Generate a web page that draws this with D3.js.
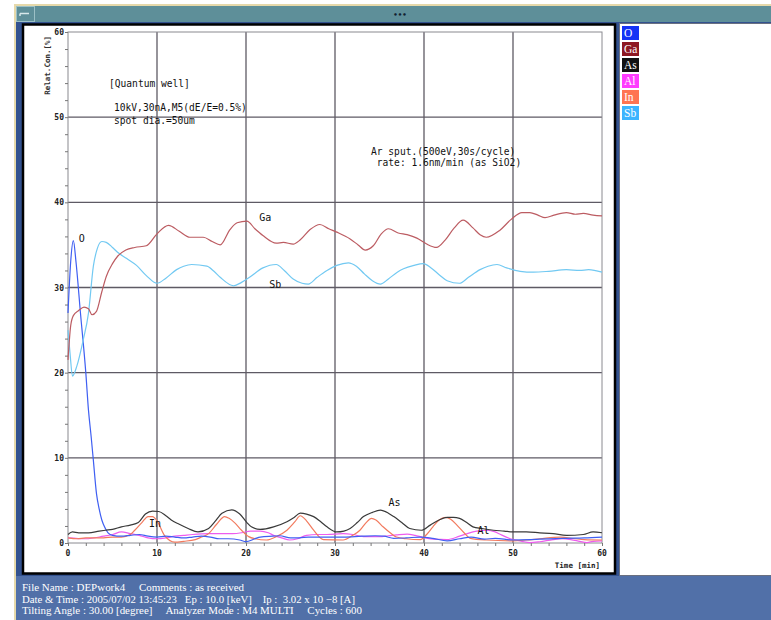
<!DOCTYPE html>
<html><head><meta charset="utf-8">
<script src="https://cdn.jsdelivr.net/npm/d3@7"></script>
<style>body{margin:0;background:#fff}svg{display:block}</style>
</head><body><svg id="c" width="771" height="620"></svg>
<script>
// ---- data (time [min], relative concentration [%]) ----
const seriesNames = ["O","Ga","As","Al","In","Sb"];
const legendColors = ["#1533f5","#8e1822","#121212","#ff3cff","#ff7452","#3db4ff"];
const lineColors   = ["#3f5ff2","#bc5c62","#3a3a3a","#ee5cee","#f27a5e","#72c9f2"];
const xTicks = [0,10,20,30,40,50,60];
const yTicks = [0,10,20,30,40,50,60];

const dataO = [[0,27],[0.3,33],[0.6,35.5],[0.9,33],[1.4,27],[2.0,20],[2.3,15.6],[2.6,12.5],[2.85,9.7],[3.2,5.8],[3.5,4.0],[3.8,2.7],[4.2,1.7],[4.5,1.2],[5.0,0.9],[6.0,0.8],[7.0,0.9],[8.0,1.0],[9.0,0.8],[10,0.7],[11,0.8],[12,0.7],[13,0.6],[14,0.7],[15,0.8],[16,0.7],[17,0.5],[18,0.5],[19.3,0.35],[20,0.15],[21,0.5],[21.6,0.7],[23,0.8],[23.8,0.85],[25,0.6],[26,0.6],[27,0.7],[29,0.7],[31,0.7],[33,0.8],[34.5,0.85],[35.5,0.8],[36.6,0.55],[38,0.6],[39.6,0.7],[41,0.55],[42.6,0.25],[44,0.5],[45.3,0.7],[46.8,0.45],[48,0.55],[50,0.35],[52,0.4],[53,0.45],[56,0.55],[58,0.6],[60,0.7]];
const dataGa = [[0,21.5],[0.3,25.5],[0.6,26.7],[1.2,27.3],[1.8,27.7],[2.3,27.5],[2.7,26.8],[3.2,27.2],[3.8,29.5],[4.3,31.3],[5.0,32.8],[5.6,33.7],[6.5,34.4],[7.5,34.7],[8.8,34.9],[10.0,36.3],[11.3,37.3],[12.5,36.6],[13.7,35.9],[15.2,35.9],[16.2,35.4],[17.1,35.0],[18.2,36.8],[19.0,37.6],[20.1,37.8],[21.0,36.9],[21.9,36.1],[23.4,35.2],[24.2,35.3],[25.3,35.1],[26.1,35.6],[27.2,36.8],[28.3,37.4],[29.3,36.9],[30.2,36.5],[31.7,35.7],[32.6,35.0],[33.4,34.4],[34.3,34.9],[35.2,36.3],[36.0,36.9],[37.1,36.4],[38.1,36.2],[39.2,35.8],[40.3,35.1],[41.4,34.7],[42.4,35.6],[43.4,37.0],[44.4,37.9],[45.5,37.0],[46.3,36.2],[47.0,35.9],[48.5,36.7],[49.8,38.0],[51.0,38.8],[51.9,38.8],[52.8,38.5],[53.6,38.2],[54.6,38.5],[56.0,38.8],[57.0,38.6],[57.9,38.7],[59.0,38.5],[60,38.4]];
const dataAs = [[0,1.0],[0.5,1.3],[1.2,1.2],[2.3,1.2],[3.5,1.4],[4.2,1.5],[5,1.6],[6,1.9],[7,2.1],[7.9,2.4],[8.7,3.4],[9.5,3.75],[10.2,3.7],[11.0,3.2],[11.6,2.7],[12.5,2.2],[13.5,1.7],[14.6,1.3],[15.8,1.7],[16.5,2.5],[17.3,3.5],[18.4,3.9],[19.3,3.4],[20.1,2.4],[20.6,1.9],[21.6,1.6],[23.1,1.9],[24.6,2.5],[25.4,3.0],[26.1,3.5],[26.8,3.4],[27.6,3.1],[28.4,2.5],[29.1,1.9],[30.2,1.3],[31.0,1.4],[31.7,1.7],[32.5,2.4],[33.2,3.1],[34.2,3.6],[35.1,3.85],[36.0,3.5],[36.6,3.1],[37.5,2.4],[38.4,1.7],[39.7,1.5],[40.7,2.1],[41.7,2.7],[42.6,3.0],[43.3,3.0],[44.0,2.9],[44.8,2.4],[45.5,1.9],[46.5,1.7],[47.8,1.5],[49,1.4],[50.0,1.3],[51.5,1.3],[53.0,1.2],[54.5,1.1],[56.0,0.9],[57.9,1.0],[59,1.3],[60,1.2]];
const dataAl = [[0,0.6],[2,0.5],[4,0.8],[5,1.0],[6,1.3],[7,1.1],[8,0.9],[9,0.6],[10,0.5],[11,0.6],[12,0.8],[13,0.9],[14,1.0],[15.8,1.1],[17,1.1],[18.5,1.1],[19.5,1.2],[20.5,1.4],[21.6,1.4],[22.5,1.2],[23.1,0.9],[24,0.6],[24.9,0.35],[25.8,0.5],[26.8,0.9],[28,1.0],[29.1,1.0],[30.9,1.1],[32,1.0],[33.2,0.75],[35,0.75],[36,0.85],[36.9,0.95],[38.1,1.05],[39.0,0.9],[39.9,0.65],[41,0.45],[42.6,0.4],[44,0.8],[45.5,1.3],[46.3,1.45],[47.0,1.5],[48.0,1.3],[48.5,1.05],[49.7,0.5],[51,0.2],[51.9,0.05],[53,0.15],[54.5,0.4],[55.5,0.5],[56.5,0.4],[57.5,0.2],[58.3,0.05],[59,0.2],[60,0.25]];
const dataIn = [[0,0.6],[1,0.5],[2,0.6],[3,0.6],[4,0.6],[5,0.7],[6,0.7],[7,1.0],[7.5,1.5],[8.3,2.4],[9.0,3.1],[9.5,3.1],[10,2.6],[10.9,0.8],[12.0,0.1],[13,0.2],[14.3,0.4],[15,0.7],[15.8,1.1],[16.7,2.2],[17.6,3.1],[18.1,2.9],[18.8,2.3],[19.5,1.5],[20.3,0.75],[21,0.5],[22.3,0.35],[23.5,0.8],[24.6,1.5],[25.5,2.5],[26.1,3.2],[26.8,2.6],[27.6,1.5],[28.7,0.4],[30.9,0.35],[32,0.9],[32.8,1.5],[33.5,2.4],[34.1,2.9],[34.6,2.7],[35.4,1.9],[36.2,1.2],[36.9,0.7],[38,0.5],[39.6,0.4],[40.3,1.0],[41.0,1.9],[41.7,2.7],[42.4,3.0],[43.0,2.8],[43.7,2.1],[44.5,1.2],[45.2,0.55],[47,0.35],[50,0.25],[51.5,0.35],[53,0.5],[55.3,0.7],[57,0.5],[58,0.4],[60,0.35]];
const dataSb = [[0,25],[0.25,22],[0.5,19.6],[1.0,20.8],[1.7,23.8],[2.3,27],[2.85,32.5],[3.3,34.6],[3.8,35.4],[4.3,35.3],[5.0,34.7],[5.5,34.2],[6.6,33.4],[7.7,32.6],[8.8,31.4],[10.0,30.5],[11.0,31.1],[12.2,32.1],[13.0,32.5],[13.9,32.7],[15.6,32.5],[16.4,31.9],[17.1,31.2],[18.6,30.2],[19.5,30.6],[20.4,31.2],[21.9,32.3],[23.4,32.7],[24.3,32.0],[25.3,31.0],[26.3,30.5],[27.0,30.4],[28.0,31.2],[29.1,32.0],[30.2,32.6],[31.5,32.9],[32.4,32.5],[33.3,31.6],[34.2,30.8],[35.1,30.4],[36.0,31.0],[37.0,31.8],[37.7,32.2],[38.9,32.6],[39.9,32.8],[40.8,32.3],[41.7,31.5],[42.6,30.8],[44.0,30.5],[45.0,31.2],[46.3,32.1],[47.2,32.5],[48.2,32.7],[49.3,32.3],[50.8,31.9],[52.3,31.8],[54.0,31.9],[56.0,32.1],[57.5,32.0],[58.5,32.1],[60,31.8]];
const seriesData = [dataO, dataGa, dataAs, dataAl, dataIn, dataSb];
// labels placed on the curves: [name, time, value]
const curveLabels = [["O",1.2,35.4],["Ga",21.5,37.8],["Sb",22.6,30.0],["In",9.1,1.9],["As",36.0,4.35],["Al",46.0,1.05]];
const noteLines = ["[Quantum well]","10kV,30nA,M5(dE/E=0.5%)","spot dia.=50um"];
const sputLines = ["Ar sput.(500eV,30s/cycle)"," rate: 1.6nm/min (as SiO2)"];
const footerLines = ["File Name : DEPwork4     Comments : as received",
  "Date & Time : 2005/07/02 13:45:23   Ep : 10.0 [keV]    Ip :  3.02 x 10 \u22128 [A]",
  "Tilting Angle : 30.00 [degree]     Analyzer Mode : M4 MULTI     Cycles : 600"];

// ---- drawing ----
const svg = d3.select("#c");
const W = 771, H = 620;
svg.append("rect").attr("width",W).attr("height",H).attr("fill","#fff");
// window frame
svg.append("rect").attr("x",14).attr("y",4).attr("width",W-14).attr("height",H-4).attr("fill","#e6d9aa");
svg.append("rect").attr("x",16).attr("y",6).attr("width",W-16).attr("height",H-6).attr("fill","#33528f");
svg.append("rect").attr("x",16).attr("y",576).attr("width",W-16).attr("height",44).attr("fill","#5170a8");
// title bar
svg.append("rect").attr("x",16).attr("y",6).attr("width",W-16).attr("height",16).attr("fill","#5e8f99");
svg.append("rect").attr("x",16.5).attr("y",6.5).attr("width",18).attr("height",15).attr("fill","#5e8f99").attr("stroke","#9cc0c6");
svg.append("path").attr("d","M20,13.5 H29 M20,13.5 V16").attr("stroke","#d8e8ea").attr("stroke-width",1.5).attr("fill","none");
svg.append("text").attr("x",400).attr("y",16.5).attr("text-anchor","middle").attr("font-family","DejaVu Sans").attr("font-weight","bold").attr("font-size",7).attr("fill","#102030").text("\u2022\u2022\u2022");

// panels
svg.append("rect").attr("x",23).attr("y",24.5).attr("width",592).attr("height",549).attr("fill","#fff").attr("stroke","#000").attr("stroke-width",2.5);
svg.append("rect").attr("x",619.5).attr("y",23.5).attr("width",152).attr("height",552).attr("fill","#fff").attr("stroke","#6a7080").attr("stroke-width",1);

// scales
const x = d3.scaleLinear().domain([0,60]).range([68,602]);
const y = d3.scaleLinear().domain([0,60]).range([543,32]);

const g = svg.append("g");
// grid
g.selectAll("line.vg").data(xTicks.filter(d=>d>0&&d<60)).join("line")
  .attr("x1",d=>x(d)).attr("x2",d=>x(d)).attr("y1",y(0)).attr("y2",y(60))
  .attr("stroke","#5e5a64").attr("stroke-width",1.3);
g.selectAll("line.hg").data(yTicks.filter(d=>d>0&&d<60)).join("line")
  .attr("y1",d=>y(d)).attr("y2",d=>y(d)).attr("x1",x(0)).attr("x2",x(60))
  .attr("stroke","#5e5a64").attr("stroke-width",1.3);
g.append("rect").attr("x",x(0)).attr("y",y(60)).attr("width",x(60)-x(0)).attr("height",y(0)-y(60))
  .attr("fill","none").attr("stroke","#8a8a90").attr("stroke-width",1);

// axes with minor ticks
const xAxis = d3.axisBottom(x).tickValues(d3.range(0,61,2)).tickSize(3).tickFormat("");
const yAxis = d3.axisLeft(y).tickValues(d3.range(0,61,2)).tickSize(3).tickFormat("");
const xa = g.append("g").attr("transform",`translate(0,${y(0)})`).call(xAxis);
const ya = g.append("g").attr("transform",`translate(${x(0)},0)`).call(yAxis);
[xa,ya].forEach(a=>{a.select(".domain").remove(); a.selectAll("line").attr("stroke","#777");});
g.selectAll("text.xt").data(xTicks).join("text").attr("class","xt")
  .attr("x",d=>x(d)).attr("y",y(0)+13).attr("text-anchor","middle")
  .attr("font-family","DejaVu Sans Mono").attr("font-weight","bold").attr("font-size",8).attr("fill","#222").text(d=>d);
g.selectAll("text.yt").data(yTicks).join("text").attr("class","yt")
  .attr("x",x(0)-4).attr("y",d=>y(d)+3).attr("text-anchor","end")
  .attr("font-family","DejaVu Sans Mono").attr("font-weight","bold").attr("font-size",8).attr("fill","#222").text(d=>d);
svg.append("text").attr("transform","translate(50,36) rotate(-90)").attr("text-anchor","end")
  .attr("font-family","DejaVu Sans Mono").attr("font-weight","bold").attr("font-size",7.5).attr("fill","#333").text("Relat.Con.[%]");
svg.append("text").attr("x",600).attr("y",568).attr("text-anchor","end")
  .attr("font-family","DejaVu Sans Mono").attr("font-weight","bold").attr("font-size",7.5).attr("fill","#222").text("Time [min]");

// lines
const line = d3.line().x(d=>x(d[0])).y(d=>y(d[1])).curve(d3.curveMonotoneX);
const order = [3,4,0,2,5,1];
order.forEach(i=>{
  g.append("path").datum(seriesData[i]).attr("d",line).attr("fill","none")
   .attr("stroke",lineColors[i]).attr("stroke-width",1.2);
});

// curve labels
g.selectAll("text.cl").data(curveLabels).join("text").attr("class","cl")
  .attr("x",d=>x(d[1])).attr("y",d=>y(d[2])).attr("font-family","DejaVu Sans Mono")
  .attr("font-size",10).attr("fill","#111").text(d=>d[0]);

// notes
noteLines.forEach((t,i)=>{
  svg.append("text").attr("x",i===0?109:114).attr("y",[87,111,124][i])
   .attr("font-family","DejaVu Sans Mono").attr("font-size",9.6).attr("fill","#111").attr("xml:space","preserve").text(t);
});
sputLines.forEach((t,i)=>{
  svg.append("text").attr("x",371).attr("y",[155,166][i]).attr("xml:space","preserve")
   .attr("font-family","DejaVu Sans Mono").attr("font-size",9.6).attr("fill","#111").text(t);
});

// legend
const lg = svg.append("g");
seriesNames.forEach((n,i)=>{
  const yy = 26 + i*16;
  lg.append("rect").attr("x",622).attr("y",yy).attr("width",17).attr("height",14).attr("fill",legendColors[i]);
  lg.append("text").attr("x",624).attr("y",yy+11).attr("font-family","Liberation Serif")
    .attr("font-size",11.5).attr("fill","#fff").text(n);
});

// footer
footerLines.forEach((t,i)=>{
  svg.append("text").attr("x",22).attr("y",591+i*11.5).attr("xml:space","preserve")
   .attr("font-family","Liberation Serif").attr("font-size",11).attr("fill","#fff")
   .attr("textLength",[222,333,340][i]).attr("lengthAdjust","spacingAndGlyphs").text(t);
});
</script></body></html>
